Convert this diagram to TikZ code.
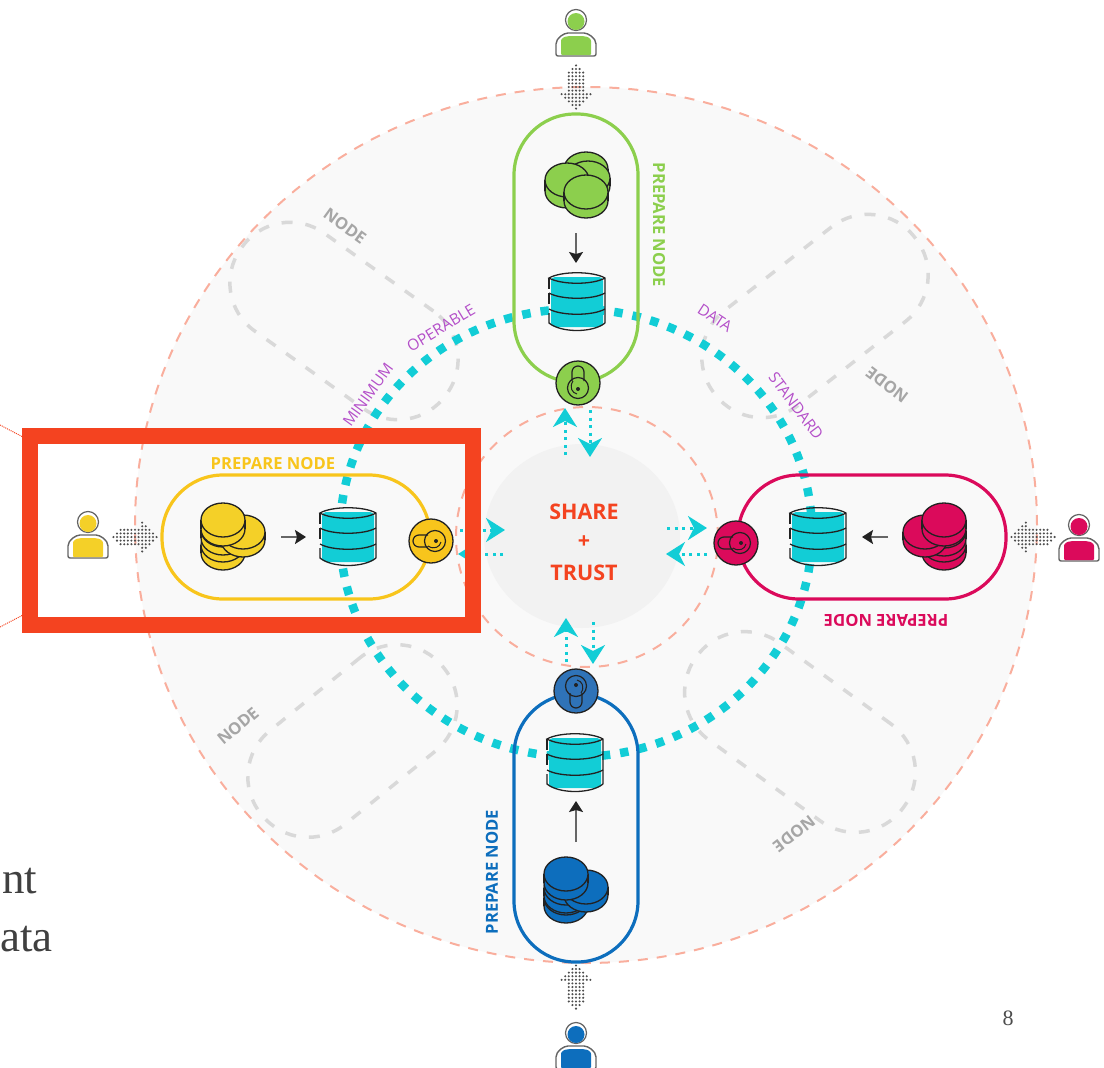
\documentclass[tikz,border=0pt]{standalone}
\usepackage{fontspec}
\setmainfont{Open Sans}
\newfontfamily\slidefont{Liberation Serif}
\usetikzlibrary{arrows.meta}
\definecolor{grn}{HTML}{8CCF4D}
\definecolor{ylw}{HTML}{F8C51C}
\definecolor{coinylw}{HTML}{F4D028}
\definecolor{pnk}{HTML}{DB0A5B}
\definecolor{blu}{HTML}{0D6EBD}
\definecolor{lockblu}{HTML}{2F73B8}
\definecolor{cyn}{HTML}{12CDD6}
\definecolor{salmon}{HTML}{F9AE9D}
\definecolor{ink}{HTML}{222222}
\definecolor{boxred}{HTML}{F44320}
\definecolor{prp}{HTML}{B44FC9}
\newcommand{\coin}[4]{%
\draw[ink,line width=1.3pt,fill=#4] (#1,#2+#3) ellipse [x radius=22pt,y radius=17pt];
\fill[#4] (#1-22,#2) rectangle (#1+22,#2+#3);
\draw[ink,line width=1.3pt] (#1-22,#2) -- (#1-22,#2+#3) (#1+22,#2) -- (#1+22,#2+#3);
\draw[ink,line width=1.3pt,fill=#4] (#1,#2) ellipse [x radius=22pt,y radius=17pt];
}
\newcommand{\database}[2]{%
\fill[cyn,rounded corners=4pt] (#1-26,#2-24) rectangle (#1+26,#2+26);
\draw[ink,line width=1.3pt] (#1+28,#2+22) -- (#1+28,#2-23) .. controls (#1+16,#2-30) and (#1-16,#2-30) .. (#1-28,#2-23) .. controls (#1-16,#2-16) and (#1+16,#2-16) .. (#1+28,#2-23);
\draw[ink,line width=1.3pt] (#1-28,#2-23) -- (#1-28,#2-12);
\draw[ink,line width=1.3pt] (#1-28,#2-8) .. controls (#1-16,#2-1) and (#1+16,#2-1) .. (#1+28,#2-8);
\draw[ink,line width=1.3pt] (#1-28,#2-8) -- (#1-28,#2+3);
\draw[ink,line width=1.3pt] (#1-28,#2+8) .. controls (#1-16,#2+15) and (#1+16,#2+15) .. (#1+28,#2+8);
\draw[ink,line width=1.3pt] (#1-28,#2+12) -- (#1-28,#2+22) .. controls (#1-16,#2+32) and (#1+16,#2+32) .. (#1+28,#2+22);
}
\newcommand{\person}[3]{%
\draw[ink!70,line width=1.2pt,fill=white] (#1,#2) circle (10.5pt);
\fill[#3] (#1,#2+1.5) circle (8.5pt);
\draw[ink!70,line width=1.4pt,fill=white,rounded corners=2pt] (#1-20,#2+36) -- (#1-20,#2+26) .. controls (#1-20,#2+18) and (#1-12,#2+13) .. (#1-6,#2+13) -- (#1+6,#2+13) .. controls (#1+12,#2+13) and (#1+20,#2+18) .. (#1+20,#2+26) -- (#1+20,#2+36) -- cycle;
\fill[#3,rounded corners=1pt] (#1-15,#2+35) -- (#1-15,#2+20) .. controls (#1-13,#2+17) and (#1-9,#2+16) .. (#1-5,#2+16) -- (#1+5,#2+16) .. controls (#1+9,#2+16) and (#1+13,#2+17) .. (#1+15,#2+20) -- (#1+15,#2+35) -- cycle;
}
\newcommand{\dotarrow}[3]{%
\begin{scope}[shift={(#1,#2)},rotate=#3]
\foreach \i/\m in {-6/0,-5/1,-4/2,-3/2,-2/2,-1/2,0/2,1/2,2/4,3/3,4/2,5/1,6/0} {
\foreach \j in {-\m,...,\m} {
\fill[ink!80] (\i*3.6,\j*3.6) circle (1.15pt);
}
}
\end{scope}
}
\newcommand{\lockmark}[3]{%
\begin{scope}[shift={(#1,#2)},rotate=#3]
\draw[ink,line width=1.2pt,rounded corners=6pt] (-3,-6) -- (-18,-6) -- (-18,6) -- (-3,6);
\draw[ink,line width=1.2pt] (4,0) circle (10.5pt);
\draw[ink,line width=1pt] (-3,5) .. controls (3,9) and (9,6) .. (10,1);
\fill[ink] (5,0) circle (2pt);
\end{scope}
}
\begin{document}
\begin{tikzpicture}[x=1pt,y=-1pt]
\tikzstyle{pill} = [draw,line width=3.2pt,rounded corners=61pt,minimum width=268pt,minimum height=124pt,inner sep=0pt]
\tikzstyle{ghost} = [draw=black!15,line width=3.5pt,dash pattern=on 11pt off 13pt,rounded corners=59pt,minimum height=120pt,inner sep=0pt]
\tikzstyle{lockbase} = [draw=ink,line width=1.3pt,shape=circle,minimum size=44pt,inner sep=0pt]
\tikzstyle{ringline} = [draw=salmon,line width=2pt,dash pattern=on 10pt off 9pt]
\tikzstyle{sharearrow} = [cyn,line width=3pt,dash pattern=on 3pt off 4.5pt,-{Stealth[length=19pt,width=24pt,inset=6pt]}]
\tikzstyle{flowarrow} = [black!60,line width=1.6pt,-{Stealth[ink,length=11pt,width=14pt,inset=2pt]}]
\tikzstyle{prep} = [font=\bfseries\fontsize{16.6}{17}\selectfont,inner sep=0pt]
\tikzstyle{ringtext} = [prp,font=\fontsize{15.5}{16}\selectfont,inner sep=0pt]
\tikzstyle{ghosttext} = [black!35,font=\bfseries\fontsize{16.5}{17}\selectfont,inner sep=0pt]
\tikzstyle{centerword} = [boxred,font=\bfseries\fontsize{21.5}{23}\selectfont,inner sep=0pt]
\path[use as bounding box,clip] (0,0) rectangle (1104,1068);
\fill[black!2.5] (586,525) ellipse [x radius=451pt,y radius=438pt];
\draw[ringline] (586,525) ellipse [x radius=451pt,y radius=438pt];
\fill[black!5] (582,536) ellipse [x radius=98pt,y radius=92pt];
\draw[ringline] (587,537) ellipse [x radius=131pt,y radius=130pt];
\node[ghost,minimum width=252pt,rotate=-35.5] (nodetl) at (344,321) {};
\node[ghost,minimum width=254pt,rotate=38] (nodetr) at (815,316) {};
\node[ghost,minimum width=234pt,rotate=39] (nodebl) at (352.5,741) {};
\node[ghost,minimum width=256pt,rotate=-36] (nodebr) at (800,732) {};
\draw[cyn,line width=8.5pt,dash pattern=on 8.5pt off 10pt] (576,533) ellipse [x radius=236pt,y radius=224pt];
\node[pill,draw=grn,rotate=90] (greenpill) at (576,248) {};
\node[pill,draw=ylw] (yellowpill) at (296,537) {};
\node[pill,draw=pnk] (redpill) at (872,537) {};
\node[pill,draw=blu,rotate=90] (bluepill) at (576,828) {};
\coin{586}{169}{8}{grn}
\coin{588}{178}{8}{grn}
\coin{567}{180}{11}{grn}
\coin{586}{192}{9}{grn}
\coin{223}{545}{8}{coinylw}
\coin{223}{530}{8}{coinylw}
\coin{243}{532}{8}{coinylw}
\coin{223}{520}{9}{coinylw}
\coin{944}{545}{8}{pnk}
\coin{944}{531}{8}{pnk}
\coin{925}{532}{8}{pnk}
\coin{944}{520}{9}{pnk}
\coin{566}{898}{8}{blu}
\coin{566}{888}{8}{blu}
\coin{586}{887}{8}{blu}
\coin{566}{874}{9}{blu}
\database{577}{301}
\database{348}{536}
\database{818}{536}
\database{575}{762}
\coordinate (greenfrom) at (576,233);
\coordinate (greento) at (576,263);
\coordinate (yellowfrom) at (281,537);
\coordinate (yellowto) at (306,537);
\coordinate (redfrom) at (888,537);
\coordinate (redto) at (862,537);
\coordinate (bluefrom) at (576,842);
\coordinate (blueto) at (576,801);
\draw[flowarrow] (greenfrom) -- (greento);
\draw[flowarrow] (yellowfrom) -- (yellowto);
\draw[flowarrow] (redfrom) -- (redto);
\draw[flowarrow] (bluefrom) -- (blueto);
\node[lockbase,fill=grn] (greenlock) at (578,383) {};
\node[lockbase,fill=ylw] (yellowlock) at (431,541) {};
\node[lockbase,fill=pnk] (redlock) at (736,543) {};
\node[lockbase,fill=lockblu] (bluelock) at (576,691) {};
\lockmark{578}{384}{-90}
\lockmark{431}{541}{0}
\lockmark{736}{543}{0}
\lockmark{576}{690}{90}
\person{576}{20}{grn}
\person{88}{522}{coinylw}
\person{1079}{525}{pnk}
\person{576}{1033}{blu}
\dotarrow{576}{87}{-90}
\dotarrow{135}{537}{0}
\dotarrow{1033}{537}{180}
\dotarrow{576}{987}{90}
\coordinate (sharea1) at (460,530);
\coordinate (sharea2) at (505,530);
\coordinate (shareb1) at (503,554);
\coordinate (shareb2) at (458,554);
\coordinate (sharec1) at (667,528);
\coordinate (sharec2) at (707,528);
\coordinate (shared1) at (707,554);
\coordinate (shared2) at (666,554);
\coordinate (sharee1) at (565,455);
\coordinate (sharee2) at (565,408);
\coordinate (sharef1) at (590,410);
\coordinate (sharef2) at (590,457);
\coordinate (shareg1) at (566,662);
\coordinate (shareg2) at (566,618);
\coordinate (shareh1) at (593,622);
\coordinate (shareh2) at (593,664);
\draw[sharearrow] (sharea1) -- (sharea2);
\draw[sharearrow] (shareb1) -- (shareb2);
\draw[sharearrow] (sharec1) -- (sharec2);
\draw[sharearrow] (shared1) -- (shared2);
\draw[sharearrow] (sharee1) -- (sharee2);
\draw[sharearrow] (sharef1) -- (sharef2);
\draw[sharearrow] (shareg1) -- (shareg2);
\draw[sharearrow] (shareh1) -- (shareh2);
\node[prep,grn,rotate=-90] (greenlabel) at (659,225) {PREPARE NODE};
\node[prep,ylw] (yellowlabel) at (273,464) {PREPARE NODE};
\node[prep,pnk,rotate=180] (redlabel) at (886,620) {PREPARE NODE};
\node[prep,blu,rotate=90] (bluelabel) at (492,872) {PREPARE NODE};
\node[centerword] (sharelabel) at (584,512) {SHARE};
\node[centerword] (pluslabel) at (584,542) {+};
\node[centerword] (trustlabel) at (584,573) {TRUST};
\node[ringtext,rotate=54] (minimumlabel) at (368,395) {MINIMUM};
\node[ringtext,rotate=31] (operablelabel) at (441,328) {OPERABLE};
\node[ringtext,rotate=-33] (datalabel) at (715,318) {DATA};
\node[ringtext,rotate=-53] (standardlabel) at (796,406) {STANDARD};
\node[ghosttext,rotate=-36] (ghosttl) at (345,226) {NODE};
\node[ghosttext,rotate=143] (ghosttr) at (887,385) {NODE};
\node[ghosttext,rotate=40] (ghostbl) at (238,726) {NODE};
\node[ghosttext,rotate=218] (ghostbr) at (794,834) {NODE};
\draw[boxred,line width=16pt] (30,436) rectangle (473,625);
\coordinate (zooma) at (0,425);
\coordinate (zoomb) at (23,437);
\coordinate (zoomc) at (0,627);
\coordinate (zoomd) at (23,615);
\draw[boxred,line width=1pt,densely dotted] (zooma) -- (zoomb);
\draw[boxred,line width=1pt,densely dotted] (zoomc) -- (zoomd);
\node[font=\slidefont\fontsize{45}{45}\selectfont,anchor=base west,inner sep=0pt,black!75] (slidea) at (2,893) {nt};
\node[font=\slidefont\fontsize{45}{45}\selectfont,anchor=base west,inner sep=0pt,black!75] (slideb) at (0,951) {ata};
\node[font=\slidefont\fontsize{22}{22}\selectfont,black!70,inner sep=0pt] (pagenum) at (1008,1018) {8};
\end{tikzpicture}
\end{document}
